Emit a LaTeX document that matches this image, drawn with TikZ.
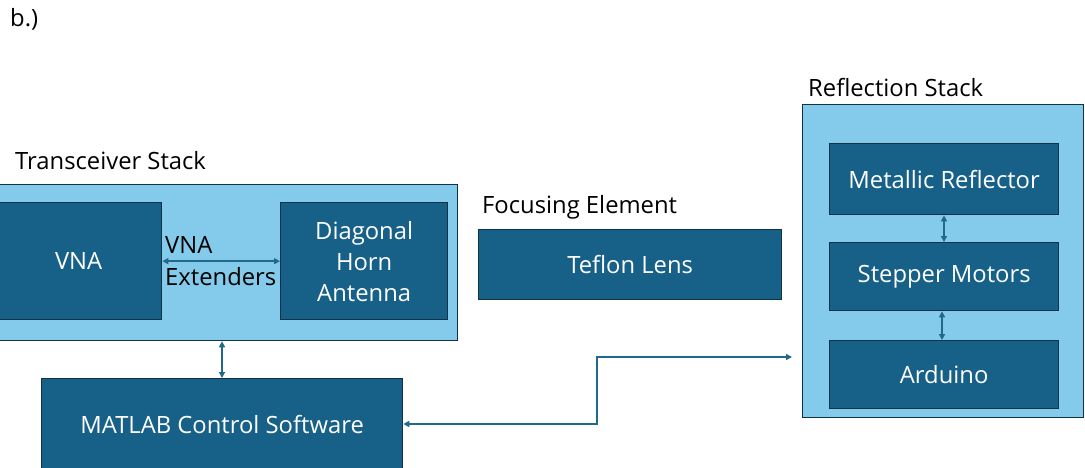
\documentclass[tikz,border=0pt]{standalone}
\usepackage{fontspec}
\setmainfont{Open Sans}
\usetikzlibrary{arrows.meta}
\definecolor{dark}{HTML}{176087}
\definecolor{light}{HTML}{83CAEB}
\definecolor{edge}{HTML}{0F3246}
\definecolor{arr}{HTML}{1F6A8C}
\tikzset{
  x=1pt,y=-1pt,
  darkbox/.style={draw=edge,line width=1.3pt,fill=dark,text=white,inner sep=0pt,align=center,font=\fontsize{23.8}{31}\selectfont},
  lightbox/.style={draw=edge,line width=1.3pt,fill=light,inner sep=0pt},
  lbl/.style={inner sep=0pt,anchor=base west,font=\fontsize{23.8}{31}\selectfont},
  conn/.style={draw=arr,line width=1.4pt,{Triangle[length=6pt,width=6pt]}-{Triangle[length=6pt,width=6pt]}},
}
\begin{document}
\begin{tikzpicture}
\useasboundingbox (0,0) rectangle (1085,468);
\clip (0,0) rectangle (1085,468);
\fill[white] (0,0) rectangle (1085,468);
\node[lbl] (b) at (10,27) {b.)};
% Transceiver stack
\node[lbl] (tslbl) at (15,170) {Transceiver Stack};
\node[lightbox,minimum width=467pt,minimum height=156pt,anchor=north west] (ts) at (-10,184) {};
\node[darkbox,minimum width=166pt,minimum height=117pt,anchor=north west] (vna) at (-5,202) {VNA};
\node[darkbox,minimum width=167pt,minimum height=117pt,anchor=north west] (horn) at (280,202) {Diagonal\\Horn\\Antenna};
\draw[conn] (vna.east) -- (horn.west);
\node[lbl] (ext1) at (165,253) {VNA};
\node[lbl] (ext2) at (165,285) {Extenders};
% Focusing element
\node[lbl] (felbl) at (482,213) {Focusing Element};
\node[darkbox,minimum width=303pt,minimum height=70pt,anchor=north west] (lens) at (478,229) {Teflon Lens};
% MATLAB
\node[darkbox,minimum width=361pt,minimum height=92pt,anchor=north west] (matlab) at (41,378) {MATLAB Control Software};
\draw[conn] (ts.south -| 222,0) -- (matlab.north -| 222,0);
% Reflection stack
\node[lbl] (rslbl) at (808,97) {Reflection Stack};
\node[lightbox,minimum width=281pt,minimum height=313pt,anchor=north west] (rs) at (802,104) {};
\node[darkbox,minimum width=229pt,minimum height=71pt,anchor=north west] (mr) at (829,143) {Metallic Reflector};
\node[darkbox,minimum width=229pt,minimum height=68pt,anchor=north west] (sm) at (829,242) {Stepper Motors};
\node[darkbox,minimum width=229pt,minimum height=68pt,anchor=north west] (ard) at (829,340) {Arduino};
\draw[conn] (mr.south -| 944,0) -- (sm.north -| 944,0);
\draw[conn] (sm.south -| 942,0) -- (ard.north -| 942,0);
% MATLAB <-> reflection
\coordinate (rsend) at (792,357);
\draw[conn] (matlab.east |- 0,424) -- (597,424) -- (597,357) -- (rsend);
\end{tikzpicture}
\end{document}
